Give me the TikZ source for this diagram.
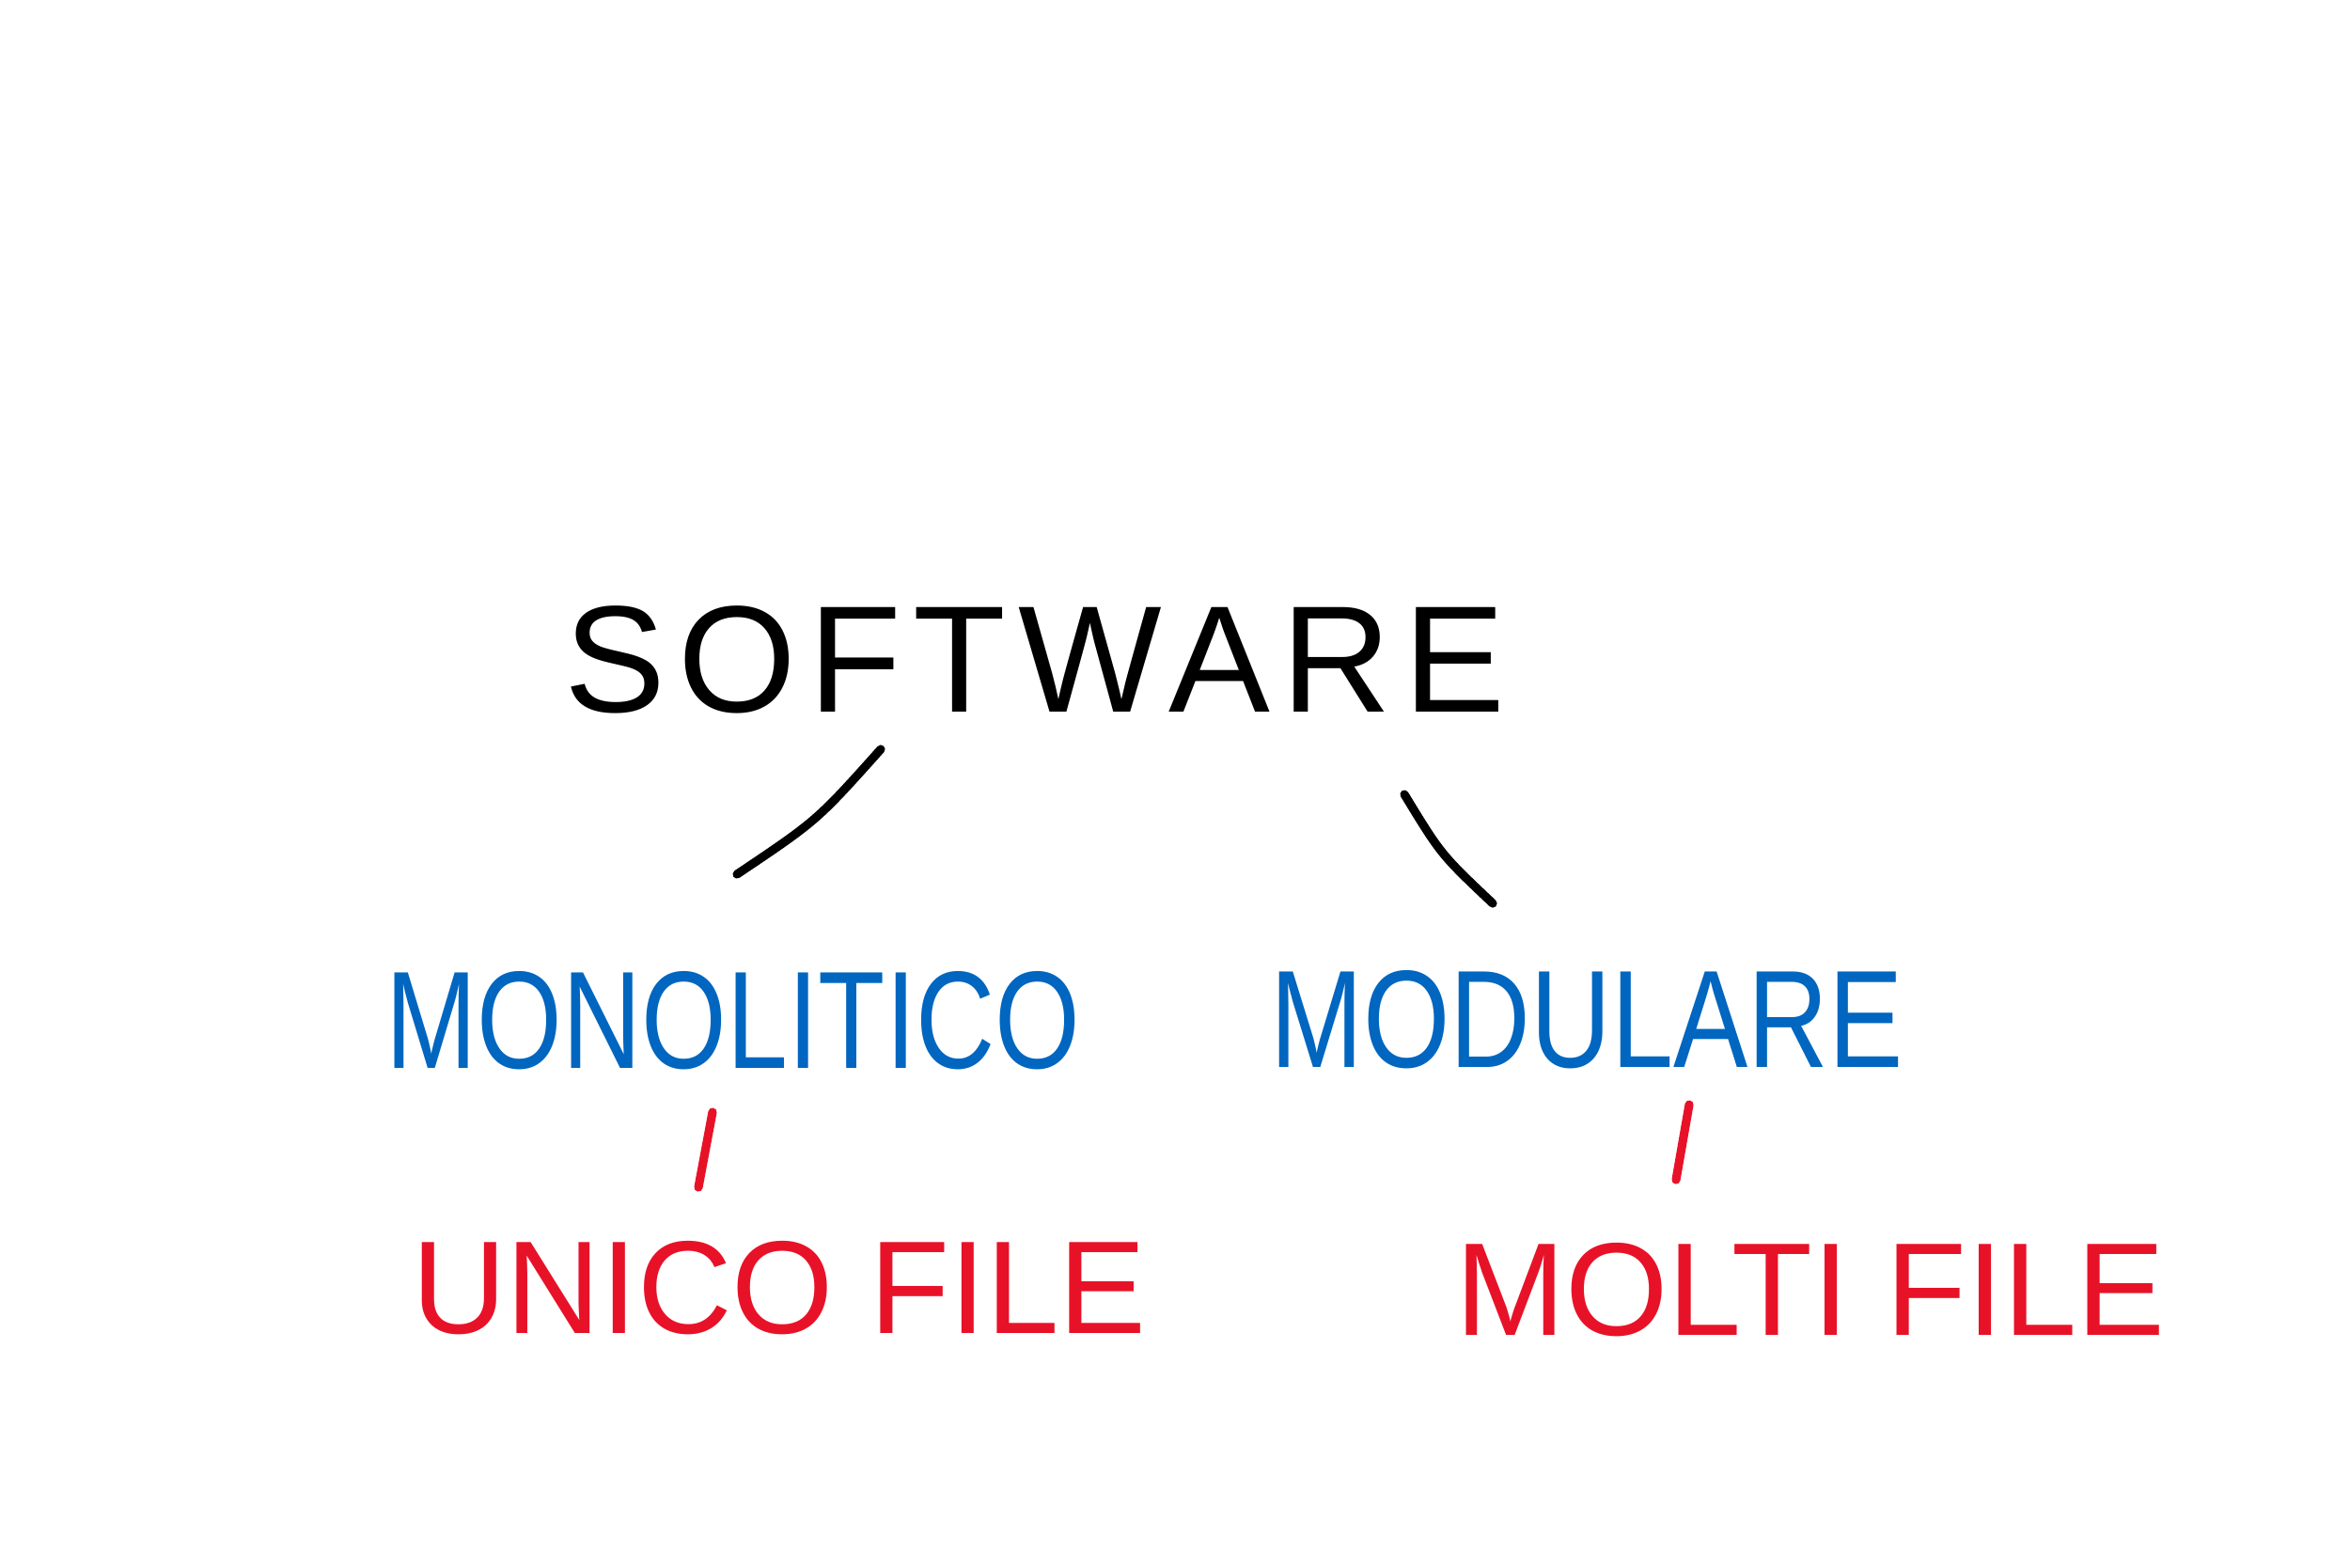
\documentclass[tikz,border=0pt]{standalone}
\usepackage{fontspec}
\setmainfont{Liberation Sans}
\begin{document}
\begin{tikzpicture}[
  every node/.style={inner sep=0pt, outer sep=0pt},
  ink/.style={line width=2.6pt, line cap=round, line join=round},
  title/.style={text=black, font=\fontsize{46}{46}\selectfont\addfontfeatures{LetterSpace=8}},
  branch/.style={text=penblue, font=\fontsize{42}{42}\selectfont, transform shape},
  leaf/.style={text=penred, font=\fontsize{40}{40}\selectfont, transform shape}
]
\definecolor{penblue}{RGB}{0,102,192}
\definecolor{penred}{RGB}{232,18,40}

% page
\fill[white] (0,0) rectangle (25,-16.67);
\useasboundingbox (0,0) rectangle (25,-16.67);

% root
\node[title] (sw) at (11.01,-7.02) {SOFTWARE};

% two kinds of software
\node[branch, xscale=0.79] (mono) at (7.80,-10.86) {MONOLITICO};
\node[branch, xscale=0.805] (modu) at (16.88,-10.85) {MODULARE};

% what each one means
\node[leaf, xscale=0.99] (unico) at (8.29,-13.70) {UNICO FILE};
\node[leaf] (molti) at (19.26,-13.72) {MOLTI FILE};

% connector ends
\coordinate (swL) at (9.37,-7.97);
\coordinate (monoT) at (7.84,-9.30);
\coordinate (swR) at (14.94,-8.45);
\coordinate (moduT) at (15.88,-9.61);
\coordinate (monoB) at (7.58,-11.83);
\coordinate (unicoT) at (7.43,-12.63);
\coordinate (moduB) at (17.97,-11.75);
\coordinate (moltiT) at (17.83,-12.55);

% strokes between the words
\draw[ink, black] (swL) .. controls (8.69,-8.73) .. (monoT);
\draw[ink, black] (swR) .. controls (15.33,-9.09) .. (moduT);
\draw[ink, penred] (monoB) -- (unicoT);
\draw[ink, penred] (moduB) -- (moltiT);
\end{tikzpicture}
\end{document}
